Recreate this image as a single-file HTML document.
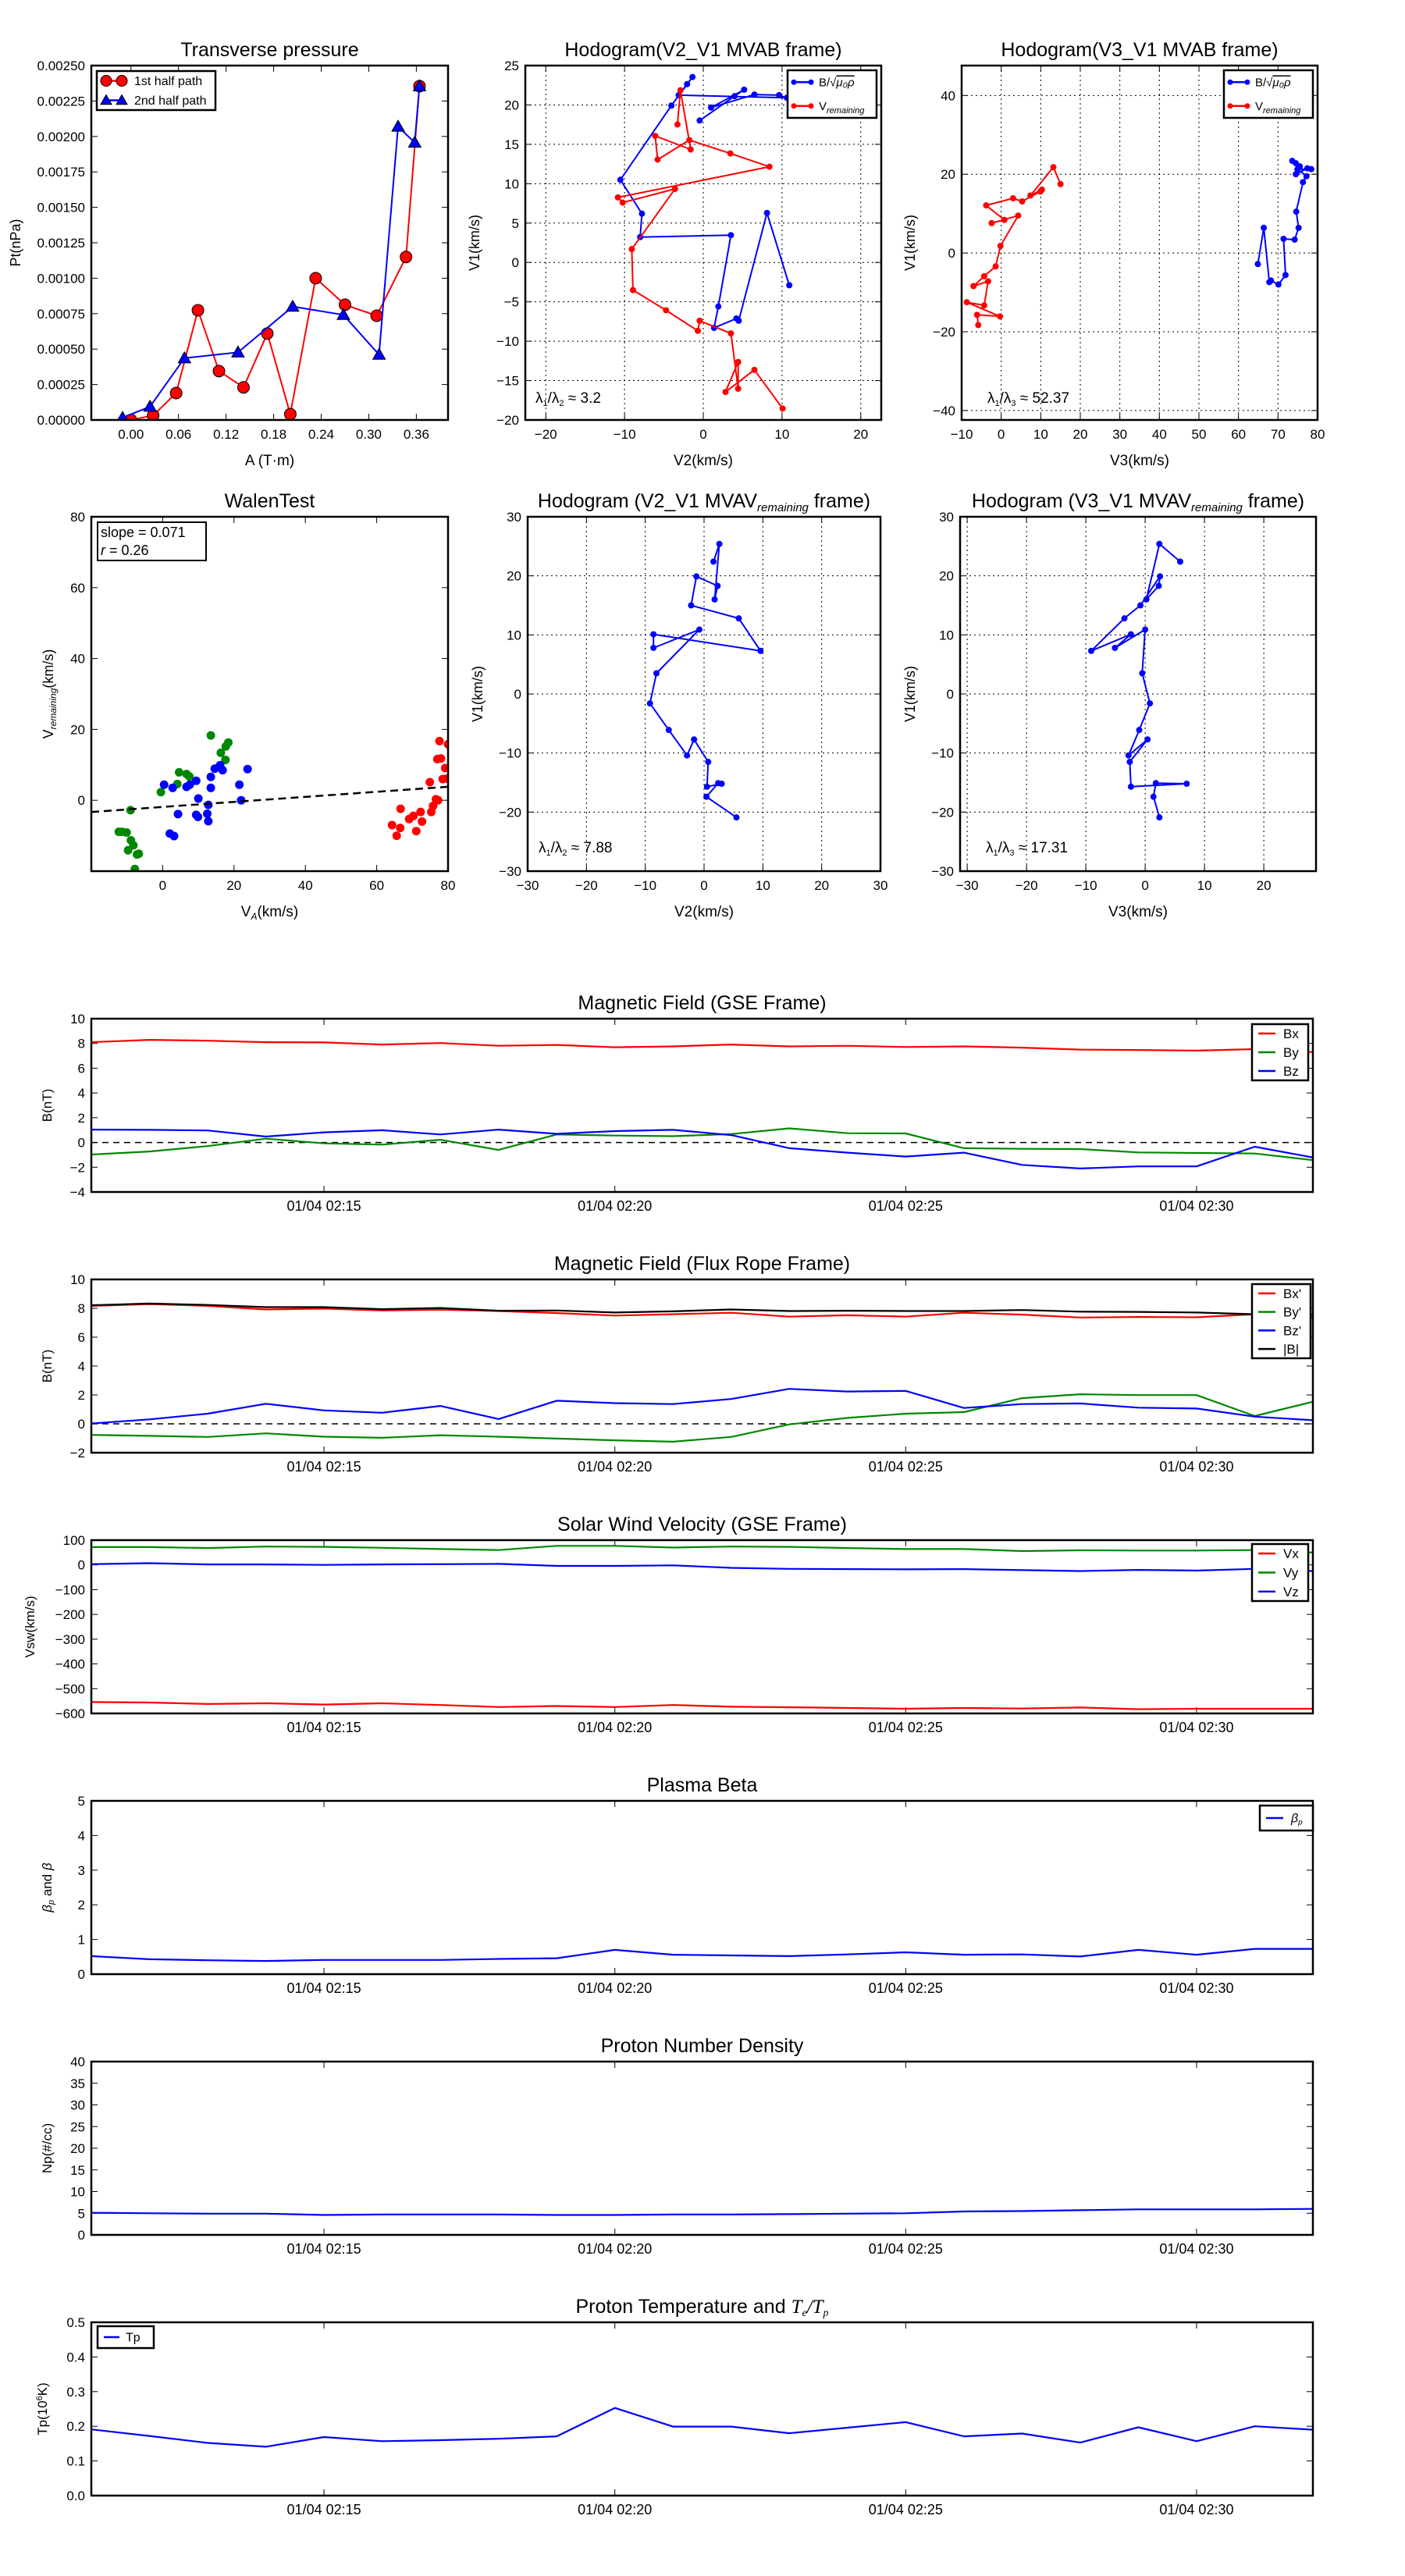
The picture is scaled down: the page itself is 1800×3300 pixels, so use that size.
<!DOCTYPE html>
<html><head><meta charset="utf-8"><style>
html,body{margin:0;padding:0;background:#fff;}
svg{display:block;font-family:"Liberation Sans","DejaVu Sans",sans-serif;}
</style></head><body>
<svg id="fig" xmlns="http://www.w3.org/2000/svg" width="1800" height="3300" viewBox="0 0 1800 3300"><rect width="1800" height="3300" fill="#fff"/></svg>
<script>
// ---------- DATA ----------
const tpRedA=[0,0.028,0.057,0.0845,0.111,0.142,0.172,0.201,0.233,0.270,0.310,0.347,0.364];
const tpRedP=[0,0.000032,0.00019,0.000774,0.000345,0.00023,0.00061,0.000041,0.001,0.000813,0.000735,0.00115,0.002355];
const tpBlueA=[-0.0106,0.024,0.0675,0.135,0.204,0.268,0.313,0.337,0.358,0.364];
const tpBlueP=[0.000016,0.000094,0.000436,0.000477,0.0008,0.000742,0.000461,0.00207,0.001957,0.002355];
const h1BX=[-0.46,3.97,5.19,0.99,6.49,9.62,10.61,-3.13,-2.06,-1.37,-4.05,-10.53,-7.79,-8.02,3.51,1.91,1.37,4.20,4.50,8.09,10.92];
const h1BY=[18.02,21.12,21.94,19.67,21.32,21.24,20.91,21.24,22.64,23.55,19.92,10.50,6.20,3.22,3.47,-5.58,-8.31,-7.11,-7.40,6.28,-2.89];
const h1VX=[-3.28,-2.90,-1.60,-6.11,-5.80,-1.76,3.44,8.40,-10.84,-10.23,-3.59,-9.08,-8.93,-4.73,-0.69,-0.46,3.51,4.43,4.43,2.82,6.49,10.08];
const h1VY=[17.52,21.86,14.34,16.07,13.06,15.54,13.84,12.15,8.26,7.60,9.34,1.69,-3.51,-6.07,-8.68,-7.40,-9.01,-16.03,-12.64,-16.45,-13.64,-18.55];
const h2BX=[73.6,74.5,75.5,74.5,77.4,78.4,74.9,77.2,76.3,74.6,75.2,74.2,71.4,71.9,70.1,68.2,67.8,66.4,64.9];
const h2BY=[23.4,22.8,22.0,20.0,21.5,21.3,21.3,19.5,18.0,10.5,6.4,3.4,3.6,-5.6,-8.0,-7.0,-7.4,6.4,-2.8];
const h2VX=[15.0,13.2,7.4,10.3,9.9,5.3,3.0,-3.8,0.8,-2.4,4.3,-0.2,-1.4,-4.3,-7.0,-3.3,-4.3,-8.7,-0.3,-6.1,-5.8];
const h2VY=[17.5,21.8,14.6,16.1,15.6,13.1,13.9,12.1,8.4,7.6,9.5,1.8,-3.4,-5.9,-8.4,-7.2,-13.3,-12.5,-16.1,-15.7,-18.3];
const walenGX=[-0.5,-9.0,-12.3,-11.4,-10.1,-8.9,-8.2,-9.7,-6.7,-7.2,-7.8,4.1,4.6,6.7,7.5,13.5,17.6,16.3,17.7,18.4];
const walenGY=[2.3,-2.8,-8.9,-8.9,-9.1,-11.3,-12.7,-14.1,-15.1,-15.3,-19.4,4.6,7.9,7.4,6.7,18.3,11.4,13.4,15.2,16.3];
const walenBX=[0.4,2.8,4.3,2.0,3.2,6.7,7.6,9.4,10.0,9.4,9.9,12.5,12.8,12.8,13.5,13.5,14.6,16.1,16.8,21.5,22.0,23.8];
const walenBY=[4.4,3.5,-3.9,-9.4,-10.1,3.8,4.4,5.5,0.5,-4.1,-4.7,-3.8,-5.9,-1.3,3.5,6.6,8.9,9.9,8.5,4.4,0.0,8.8];
const walenRX=[64.3,65.6,66.6,66.7,69.1,70.3,71.1,72.3,72.7,74.9,75.3,75.8,76.6,77.2,77.0,77.6,78.0,78.5,79.2,79.7,80.0];
const walenRY=[-7.0,-10.0,-7.8,-2.4,-5.3,-4.4,-8.7,-3.3,-6.0,5.1,-3.3,-1.6,0.3,0.0,11.6,16.7,11.8,6.0,9.1,6.1,15.8];
const walenSlope=0.071, walenIntercept=-1.88;
const h3X=[1.6,2.6,1.8,2.3,-1.3,-2.2,5.9,9.6,-8.6,-8.6,-0.8,-8.1,-9.2,-6.0,-2.9,-1.7,0.7,0.5,3.0,2.4,0.4,5.5];
const h4X=[5.9,2.4,0.2,2.3,2.5,-0.8,-3.5,-9.1,-2.4,-5.1,0.0,-0.5,0.8,-1.0,-2.8,0.4,-2.6,-2.4,7.0,1.8,1.4,2.4];
const h34Y=[22.4,25.4,16.0,18.3,19.9,15.0,12.8,7.3,10.1,7.8,10.9,3.5,-1.6,-6.1,-10.4,-7.7,-11.5,-15.7,-15.2,-15.1,-17.4,-20.9];
const timeLabels=["01/04 02:15","01/04 02:20","01/04 02:25","01/04 02:30"];
const timeTickMin=[4,9,14,19];
const gseBx=[8.10,8.29,8.22,8.10,8.08,7.91,8.03,7.81,7.88,7.69,7.76,7.91,7.76,7.81,7.71,7.76,7.66,7.50,7.47,7.42,7.54,7.30];
const gseBy=[-0.97,-0.73,-0.29,0.31,-0.07,-0.17,0.22,-0.60,0.65,0.56,0.51,0.68,1.14,0.75,0.73,-0.46,-0.51,-0.53,-0.80,-0.85,-0.89,-1.43];
const gseBz=[1.04,1.02,0.97,0.48,0.82,0.99,0.65,1.04,0.70,0.92,1.02,0.60,-0.46,-0.82,-1.14,-0.82,-1.81,-2.10,-1.93,-1.93,-0.34,-1.21];
const frBx=[8.17,8.29,8.17,7.92,7.98,7.85,7.90,7.81,7.67,7.50,7.59,7.69,7.42,7.52,7.42,7.69,7.56,7.36,7.40,7.38,7.59,7.34];
const frBy=[-0.77,-0.83,-0.91,-0.66,-0.89,-0.97,-0.79,-0.89,-1.02,-1.14,-1.24,-0.91,-0.04,0.41,0.70,0.81,1.78,2.05,1.99,1.99,0.54,1.53];
const frBz=[0.02,0.31,0.70,1.39,0.93,0.77,1.24,0.33,1.60,1.43,1.37,1.72,2.42,2.24,2.28,1.10,1.37,1.41,1.12,1.06,0.50,0.25];
const frB=[8.21,8.33,8.23,8.08,8.08,7.94,8.02,7.83,7.85,7.71,7.79,7.92,7.81,7.83,7.81,7.81,7.88,7.77,7.75,7.71,7.59,7.54];
const swVx=[-554,-556,-562,-559,-564,-559,-566,-574,-570,-574,-566,-573,-575,-578,-581,-578,-580,-576,-583,-581,-581,-581];
const swVy=[72,72,68,74,73,69,64,60,77,77,70,74,73,68,64,64,56,59,58,58,60,50];
const swVz=[3,7,2,2,0,2,3,4,-4,-4,-2,-12,-16,-17,-18,-17,-21,-25,-20,-23,-16,-25];
const betaP=[0.52,0.43,0.40,0.38,0.41,0.41,0.41,0.44,0.46,0.70,0.56,0.54,0.52,0.57,0.63,0.56,0.57,0.51,0.70,0.56,0.73,0.73];
const densNp=[5.1,5.0,4.9,4.9,4.6,4.7,4.7,4.7,4.6,4.6,4.7,4.7,4.8,4.9,5.0,5.4,5.5,5.7,5.9,5.9,5.9,6.0];
const tempTp=[0.191,0.172,0.152,0.141,0.169,0.157,0.160,0.164,0.171,0.253,0.199,0.199,0.180,0.196,0.212,0.171,0.179,0.153,0.197,0.157,0.200,0.190];

// ---------- HELPERS ----------
const svg=document.getElementById('fig');
const NS='http://www.w3.org/2000/svg';
function mk(tag,parent){const e=document.createElementNS(NS,tag);(parent||svg).appendChild(e);return e;}
function fmtNum(v,d){const s=Math.abs(v).toFixed(d);return (v<-1e-12?'\u2212':'')+s;}
let clipId=0;
function axes(c){
  const g=mk('g');
  
  
  const sx=v=>c.x0+(v-c.xmin)/(c.xmax-c.xmin)*(c.x1-c.x0);
  const sy=v=>c.y1-(v-c.ymin)/(c.ymax-c.ymin)*(c.y1-c.y0);
  const fs=c.fs||17;
  const xfs=c.xfs||fs;
  if(c.grid){
    c.xt.forEach(v=>{const l=mk('line',g);l.setAttribute('x1',sx(v));l.setAttribute('x2',sx(v));l.setAttribute('y1',c.y0);l.setAttribute('y2',c.y1);l.setAttribute('stroke','#000');l.setAttribute('stroke-width','1');l.setAttribute('stroke-dasharray','2,4');
      
      });
    c.yt.forEach(v=>{const l=mk('line',g);l.setAttribute('x1',c.x0);l.setAttribute('x2',c.x1);l.setAttribute('y1',sy(v));l.setAttribute('y2',sy(v));l.setAttribute('stroke','#000');l.setAttribute('stroke-width','1');l.setAttribute('stroke-dasharray','2,4');
      
      });
  }
  c.xt.forEach((v,i)=>{
    [[c.y1,c.y1-8],[c.y0,c.y0+8]].forEach(p=>{const l=mk('line',g);l.setAttribute('x1',sx(v));l.setAttribute('x2',sx(v));l.setAttribute('y1',p[0]);l.setAttribute('y2',p[1]);l.setAttribute('stroke','#000');l.setAttribute('stroke-width','1');
      
      });
    const t=mk('text',g);t.setAttribute('x',sx(v));t.setAttribute('y',c.y1+24);t.setAttribute('text-anchor','middle');t.setAttribute('font-size',xfs);
    t.textContent=c.xl?c.xl[i]:fmtNum(v,c.xd||0);
    
    
  });
  c.yt.forEach((v,i)=>{
    [[c.x0,c.x0+8],[c.x1,c.x1-8]].forEach(p=>{const l=mk('line',g);l.setAttribute('y1',sy(v));l.setAttribute('y2',sy(v));l.setAttribute('x1',p[0]);l.setAttribute('x2',p[1]);l.setAttribute('stroke','#000');l.setAttribute('stroke-width','1');
      
      });
    const t=mk('text',g);t.setAttribute('x',c.x0-8);t.setAttribute('y',sy(v)+6);t.setAttribute('text-anchor','end');t.setAttribute('font-size',fs);
    t.textContent=fmtNum(v,c.yd||0);
    
    
  });
  const id='clip'+(clipId++);
  const cp=mk('clipPath',g);cp.setAttribute('id',id);
  const cr=mk('rect',cp);cr.setAttribute('x',c.x0);cr.setAttribute('y',c.y0);cr.setAttribute('width',c.x1-c.x0);cr.setAttribute('height',c.y1-c.y0);
  const plot=mk('g',g);plot.setAttribute('clip-path','url(#'+id+')');
  
  
  const fr=document.createElementNS(NS,'rect');
  fr.setAttribute('x',c.x0);fr.setAttribute('y',c.y0);fr.setAttribute('width',c.x1-c.x0);fr.setAttribute('height',c.y1-c.y0);fr.setAttribute('fill','none');fr.setAttribute('stroke','#000');fr.setAttribute('stroke-width','2.5');
  
  
  if(c.title){const t=mk('text',g);t.setAttribute('x',(c.x0+c.x1)/2);t.setAttribute('y',c.y0-12);t.setAttribute('text-anchor','middle');t.setAttribute('font-size',c.tfs||25);t.innerHTML=c.title;
    
    }
  if(c.xlabel){const t=mk('text',g);t.setAttribute('x',(c.x0+c.x1)/2);t.setAttribute('y',c.y1+58);t.setAttribute('text-anchor','middle');t.setAttribute('font-size',19);t.innerHTML=c.xlabel;
    
    }
  if(c.ylabel){const t=mk('text',g);t.setAttribute('transform','translate('+c.ylx+','+(c.y0+c.y1)/2+') rotate(-90)');t.setAttribute('text-anchor','middle');t.setAttribute('font-size',c.ylfs||18);t.innerHTML=c.ylabel;
    
    }
  return {g,plot,sx,sy,fr,c};
}
function finish(a){a.g.appendChild(a.fr);}
function line(a,xs,ys,color,w,name,dash){
  const p=mk('polyline',a.plot);
  p.setAttribute('points',xs.map((x,i)=>a.sx(x).toFixed(1)+','+a.sy(ys[i]).toFixed(1)).join(' '));
  p.setAttribute('fill','none');p.setAttribute('stroke',color);p.setAttribute('stroke-width',w);p.setAttribute('stroke-linejoin','round');
  if(dash)p.setAttribute('stroke-dasharray',dash);
  
  
  return p;
}
function dots(a,xs,ys,color,r,name,stroke){
  xs.forEach((x,i)=>{const c=mk('circle',a.plot);c.setAttribute('cx',a.sx(x));c.setAttribute('cy',a.sy(ys[i]));c.setAttribute('r',r);c.setAttribute('fill',color);
    if(stroke){c.setAttribute('stroke','#000');c.setAttribute('stroke-width','1');}
    
    });
}
function tris(a,xs,ys,color,s,name){
  xs.forEach((x,i)=>{const X=a.sx(x),Y=a.sy(ys[i]);const p=mk('polygon',a.plot);
    p.setAttribute('points',X+','+(Y-s)+' '+(X-s)+','+(Y+s*0.75)+' '+(X+s)+','+(Y+s*0.75));
    p.setAttribute('fill',color);p.setAttribute('stroke','#000');p.setAttribute('stroke-width','1');
    
    });
}
function legend(x,y,w,h,items,fs,name){
  const g=mk('g');
  
  
  const r=mk('rect',g);r.setAttribute('x',x);r.setAttribute('y',y);r.setAttribute('width',w);r.setAttribute('height',h);r.setAttribute('fill','#fff');r.setAttribute('stroke','#000');r.setAttribute('stroke-width','2.5');
  const step=h/items.length;
  items.forEach((it,i)=>{
    const cy=y+step*(i+0.5);
    const l=mk('line',g);l.setAttribute('x1',x+it.lx0);l.setAttribute('x2',x+it.lx1);l.setAttribute('y1',cy);l.setAttribute('y2',cy);l.setAttribute('stroke',it.color);l.setAttribute('stroke-width',it.lw||2.5);
    
    
    if(it.marker==='o'){[it.lx0,it.lx1].forEach(px=>{const c=mk('circle',g);c.setAttribute('cx',x+px);c.setAttribute('cy',cy);c.setAttribute('r',it.mr||7);c.setAttribute('fill',it.color);c.setAttribute('stroke',it.ms||'none');
      
      });}
    if(it.marker==='^'){[it.lx0,it.lx1].forEach(px=>{const p=mk('polygon',g);const X=x+px,s=7;p.setAttribute('points',X+','+(cy-s)+' '+(X-s)+','+(cy+s*0.75)+' '+(X+s)+','+(cy+s*0.75));p.setAttribute('fill',it.color);p.setAttribute('stroke','#000');
      
      });}
    const t=mk('text',g);t.setAttribute('x',x+it.tx);t.setAttribute('y',cy+fs*0.35);t.setAttribute('font-size',fs);t.innerHTML=it.label;
    
    
  });
}
function txt(x,y,s,fs,name,anchor){const t=mk('text');t.setAttribute('x',x);t.setAttribute('y',y);t.setAttribute('font-size',fs);if(anchor)t.setAttribute('text-anchor',anchor);t.innerHTML=s;
  
  return t;}
function range(a,b,s){const r=[];for(let v=a;v<=b+1e-9;v+=s)r.push(+v.toFixed(6));return r;}
const SUB=(s)=>'<tspan font-size="11" font-style="italic" dy="4">'+s+'</tspan><tspan dy="-4"></tspan>';

// ---------- TRANSVERSE PRESSURE ----------
let a=axes({name:'transverse-pressure-chart',x0:117,x1:574,y0:84,y1:538,xmin:-0.05,xmax:0.40,ymin:0,ymax:0.0025,
  xt:range(0,0.36,0.06),xd:2,yt:range(0,0.0025,0.00025),yd:5,title:'Transverse pressure',xlabel:'A (T·m)',ylabel:'Pt(nPa)',ylx:26});
line(a,tpRedA,tpRedP,'#f00',2,'first-half-path-line');
dots(a,tpRedA,tpRedP,'#f00',7.5,'first-half-point',true);
line(a,tpBlueA,tpBlueP,'#00f',2,'second-half-path-line');
tris(a,tpBlueA,tpBlueP,'#00f',8,'second-half-point');
finish(a);
legend(124,91,152,50,[{color:'#f00',label:'1st half path',lx0:12,lx1:32,tx:48,marker:'o',ms:'#000'},{color:'#00f',label:'2nd half path',lx0:12,lx1:32,tx:48,marker:'^'}],16,'pressure-legend');

// ---------- HODOGRAM 1 ----------
a=axes({name:'hodogram-v2-v1-mvab',x0:673,x1:1129,y0:84,y1:538,xmin:-22.6,xmax:22.6,ymin:-20,ymax:25,xt:[-20,-10,0,10,20],yt:[-20,-15,-10,-5,0,5,10,15,20,25],grid:true,
  title:'Hodogram(V2_V1 MVAB frame)',xlabel:'V2(km/s)',ylabel:'V1(km/s)',ylx:614});
line(a,h1BX,h1BY,'#00f',2,'b-alfven-line');dots(a,h1BX,h1BY,'#00f',4,'b-alfven-point');
line(a,h1VX,h1VY,'#f00',2,'v-remaining-line');dots(a,h1VX,h1VY,'#f00',4,'v-remaining-point');
finish(a);
txt(686,516,'λ<tspan font-size="11" dy="4">1</tspan><tspan dy="-4">/λ</tspan><tspan font-size="11" dy="4">2</tspan><tspan dy="-4"> ≈ 3.2</tspan>',19,'eigenvalue-ratio');
legend(1009,90,114,61,[{color:'#00f',label:'B/√<tspan text-decoration="overline" font-style="italic">μ₀ρ</tspan>',lx0:8,lx1:30,tx:40,marker:'o',mr:3.5},{color:'#f00',label:'V'+SUB('remaining'),lx0:8,lx1:30,tx:40,marker:'o',mr:3.5}],15,'hodogram1-legend');

// ---------- HODOGRAM 2 ----------
a=axes({name:'hodogram-v3-v1-mvab',x0:1232,x1:1688,y0:84,y1:538,xmin:-10,xmax:80,ymin:-42.4,ymax:47.6,xt:range(-10,80,10),yt:[-40,-20,0,20,40],grid:true,
  title:'Hodogram(V3_V1 MVAB frame)',xlabel:'V3(km/s)',ylabel:'V1(km/s)',ylx:1172});
line(a,h2BX,h2BY,'#00f',2,'b-alfven-line');dots(a,h2BX,h2BY,'#00f',4,'b-alfven-point');
line(a,h2VX,h2VY,'#f00',2,'v-remaining-line');dots(a,h2VX,h2VY,'#f00',4,'v-remaining-point');
finish(a);
txt(1265,516,'λ<tspan font-size="11" dy="4">1</tspan><tspan dy="-4">/λ</tspan><tspan font-size="11" dy="4">3</tspan><tspan dy="-4"> ≈ 52.37</tspan>',19,'eigenvalue-ratio');
legend(1568,90,114,61,[{color:'#00f',label:'B/√<tspan text-decoration="overline" font-style="italic">μ₀ρ</tspan>',lx0:8,lx1:30,tx:40,marker:'o',mr:3.5},{color:'#f00',label:'V'+SUB('remaining'),lx0:8,lx1:30,tx:40,marker:'o',mr:3.5}],15,'hodogram2-legend');

// ---------- WALEN TEST ----------
a=axes({name:'walen-test-chart',x0:117,x1:574,y0:662,y1:1116,xmin:-20,xmax:80,ymin:-20,ymax:80,xt:[0,20,40,60,80],yt:[0,20,40,60,80],
  title:'WalenTest',xlabel:'V<tspan font-size="12" font-style="italic" dy="4">A</tspan><tspan dy="-4">(km/s)</tspan>',ylabel:'V<tspan font-size="12" font-style="italic" dy="4">remaining</tspan><tspan dy="-4">(km/s)</tspan>',ylx:68});
dots(a,walenGX,walenGY,'#080',5.5,'walen-point-green');
dots(a,walenBX,walenBY,'#00f',5.5,'walen-point-blue');
dots(a,walenRX,walenRY,'#f00',5.5,'walen-point-red');
line(a,[-20,80],[walenIntercept+walenSlope*-20,walenIntercept+walenSlope*80],'#000',2.5,'walen-fit-line','10,6');
finish(a);
(function(){const g=mk('g');
 const r=mk('rect',g);r.setAttribute('x',125);r.setAttribute('y',669);r.setAttribute('width',139);r.setAttribute('height',49);r.setAttribute('fill','#fff');r.setAttribute('stroke','#000');r.setAttribute('stroke-width','2');
 const t1=mk('text',g);t1.setAttribute('x',129);t1.setAttribute('y',688);t1.setAttribute('font-size',18);t1.textContent='slope = '+walenSlope.toFixed(3);
 
 const t2=mk('text',g);t2.setAttribute('x',129);t2.setAttribute('y',711);t2.setAttribute('font-size',18);t2.innerHTML='<tspan font-style="italic">r</tspan> = 0.26';
 })();

// ---------- HODOGRAM 3 ----------
a=axes({name:'hodogram-v2-v1-mvav',x0:676,x1:1128,y0:662,y1:1116,xmin:-30,xmax:30,ymin:-30,ymax:30,xt:range(-30,30,10),yt:range(-30,30,10),grid:true,
  title:'Hodogram (V2_V1 MVAV<tspan font-size="15" font-style="italic" dy="5">remaining</tspan><tspan dy="-5"> frame)</tspan>',xlabel:'V2(km/s)',ylabel:'V1(km/s)',ylx:618});
line(a,h3X,h34Y,'#00f',2,'hodogram-line');dots(a,h3X,h34Y,'#00f',4,'hodogram-point');
finish(a);
txt(690,1092,'λ<tspan font-size="11" dy="4">1</tspan><tspan dy="-4">/λ</tspan><tspan font-size="11" dy="4">2</tspan><tspan dy="-4"> ≈ 7.88</tspan>',19,'eigenvalue-ratio');

// ---------- HODOGRAM 4 ----------
a=axes({name:'hodogram-v3-v1-mvav',x0:1230,x1:1686,y0:662,y1:1116,xmin:-31.2,xmax:28.8,ymin:-30,ymax:30,xt:[-30,-20,-10,0,10,20],yt:range(-30,30,10),grid:true,
  title:'Hodogram (V3_V1 MVAV<tspan font-size="15" font-style="italic" dy="5">remaining</tspan><tspan dy="-5"> frame)</tspan>',xlabel:'V3(km/s)',ylabel:'V1(km/s)',ylx:1172});
line(a,h4X,h34Y,'#00f',2,'hodogram-line');dots(a,h4X,h34Y,'#00f',4,'hodogram-point');
finish(a);
txt(1263,1092,'λ<tspan font-size="11" dy="4">1</tspan><tspan dy="-4">/λ</tspan><tspan font-size="11" dy="4">3</tspan><tspan dy="-4"> ≈ 17.31</tspan>',19,'eigenvalue-ratio');

// ---------- TIME SERIES ----------
const tIdx=gseBx.map((_,i)=>i);
function ts(name,top,ymin,ymax,yt,yd,title,ylabel,ylx){
  return axes({name:name,x0:117,x1:1682,y0:top,y1:top+222,xmin:0,xmax:21,ymin:ymin,ymax:ymax,xt:timeTickMin,xl:timeLabels,yt:yt,yd:yd,title:title,ylabel:ylabel,ylx:ylx,ylfs:17,xfs:18});
}
a=ts('magnetic-field-gse-chart',1305,-4,10,range(-4,10,2),0,'Magnetic Field (GSE Frame)','B(nT)',66);
line(a,[0,21],[0,0],'#000',1.5,'zero-line','8,6');
line(a,tIdx,gseBx,'#f00',2.2,'bx-line');line(a,tIdx,gseBy,'#080',2.2,'by-line');line(a,tIdx,gseBz,'#00f',2.2,'bz-line');
finish(a);
legend(1604,1312,72,72,[{color:'#f00',label:'Bx',lx0:8,lx1:30,tx:40},{color:'#080',label:'By',lx0:8,lx1:30,tx:40},{color:'#00f',label:'Bz',lx0:8,lx1:30,tx:40}],17,'gse-legend');

a=ts('magnetic-field-flux-rope-chart',1639,-2,10,range(-2,10,2),0,'Magnetic Field (Flux Rope Frame)','B(nT)',66);
line(a,[0,21],[0,0],'#000',1.5,'zero-line','8,6');
line(a,tIdx,frBx,'#f00',2.2,'bx-prime-line');line(a,tIdx,frBy,'#080',2.2,'by-prime-line');line(a,tIdx,frBz,'#00f',2.2,'bz-prime-line');line(a,tIdx,frB,'#000',2.2,'b-magnitude-line');
finish(a);
legend(1604,1645,75,95,[{color:'#f00',label:'Bx\'',lx0:8,lx1:30,tx:40},{color:'#080',label:'By\'',lx0:8,lx1:30,tx:40},{color:'#00f',label:'Bz\'',lx0:8,lx1:30,tx:40},{color:'#000',label:'|B|',lx0:8,lx1:30,tx:40}],17,'flux-rope-legend');

a=ts('solar-wind-velocity-chart',1973,-600,100,range(-600,100,100),0,'Solar Wind Velocity (GSE Frame)','Vsw(km/s)',44);
line(a,tIdx,swVx,'#f00',2.2,'vx-line');line(a,tIdx,swVy,'#080',2.2,'vy-line');line(a,tIdx,swVz,'#00f',2.2,'vz-line');
finish(a);
legend(1604,1978,72,73,[{color:'#f00',label:'Vx',lx0:8,lx1:30,tx:40},{color:'#080',label:'Vy',lx0:8,lx1:30,tx:40},{color:'#00f',label:'Vz',lx0:8,lx1:30,tx:40}],17,'velocity-legend');

a=ts('plasma-beta-chart',2307,0,5,range(0,5,1),0,'Plasma Beta','<tspan font-style="italic">β<tspan font-size="11" dy="3">p</tspan><tspan dy="-3"> </tspan></tspan>and <tspan font-style="italic">β</tspan>',66);
line(a,tIdx,betaP,'#00f',2.2,'beta-p-line');
finish(a);
legend(1614,2313,68,32,[{color:'#00f',label:'<tspan font-style="italic">β<tspan font-size="10" dy="3">p</tspan></tspan>',lx0:8,lx1:30,tx:40}],16,'beta-legend');

a=ts('proton-density-chart',2641,0,40,range(0,40,5),0,'Proton Number Density','Np(#/cc)',66);
line(a,tIdx,densNp,'#00f',2.2,'np-line');
finish(a);

a=ts('proton-temperature-chart',2975,0,0.5,range(0,0.5,0.1),1,'Proton Temperature and <tspan font-style="italic" font-family="Liberation Serif">T<tspan font-size="14" dy="4">e</tspan><tspan dy="-4">/T</tspan><tspan font-size="14" dy="4">p</tspan></tspan>','Tp(10<tspan font-size="11" dy="-6">6</tspan><tspan dy="6">K)</tspan>',60);
line(a,tIdx,tempTp,'#00f',2.2,'tp-line');
finish(a);
legend(125,2980,72,28,[{color:'#00f',label:'Tp',lx0:8,lx1:28,tx:36}],16,'temperature-legend');
</script>
</body></html>
